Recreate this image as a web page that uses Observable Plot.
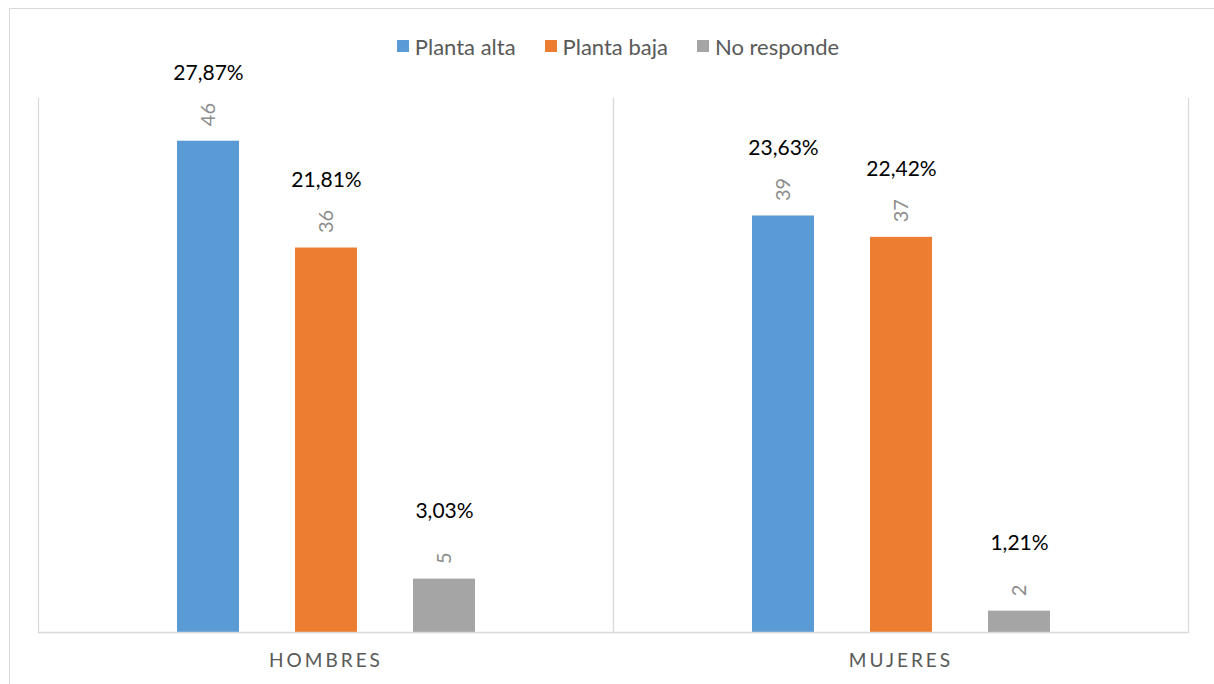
<!DOCTYPE html>
<html>
<head>
<meta charset="utf-8">
<script src="https://cdn.jsdelivr.net/npm/d3@7"></script>
<script src="https://cdn.jsdelivr.net/npm/@observablehq/plot@0.6"></script>
<style>
  html, body { margin: 0; padding: 0; background: #fff; overflow: hidden; }
  #wrap { position: relative; width: 1214px; height: 684px; font-family: Lato, "Open Sans", sans-serif; }
  #border { position: absolute; left: 9px; top: 8px; width: 1300px; height: 800px; border: 1px solid #D9D9D9; box-sizing: border-box; pointer-events: none; }
  #legend { height: 24px; padding-top: 34px; padding-left: 22px; display: flex; justify-content: center; align-items: center; gap: 29px; font-size: 22px; color: #595959; }
  .item { display: flex; align-items: center; gap: 6px; }
  .sw { width: 12px; height: 12px; display: inline-block; }
  #chart svg { display: block; }
</style>
</head>
<body>
<div id="wrap">
  <div id="border"></div>
  <div id="legend"></div>
  <div id="chart"></div>
</div>
<script>
const categories = ["HOMBRES", "MUJERES"];
const series = ["Planta alta", "Planta baja", "No responde"];
const colors = ["#5B9BD5", "#ED7D31", "#A5A5A5"];
const hombres = [46, 36, 5];
const mujeres = [39, 37, 2];
const pctHombres = ["27,87%", "21,81%", "3,03%"];
const pctMujeres = ["23,63%", "22,42%", "1,21%"];

const rows = [];
[hombres, mujeres].forEach((vals, ci) => {
  const pcts = ci === 0 ? pctHombres : pctMujeres;
  vals.forEach((v, si) => rows.push({cat: categories[ci], serie: series[si], value: v, pct: pcts[si]}));
});

const legend = document.getElementById("legend");
series.forEach((s, i) => {
  const it = document.createElement("div");
  it.className = "item";
  it.innerHTML = `<span class="sw" style="background:${colors[i]}"></span><span>${s}</span>`;
  legend.appendChild(it);
});

const chart = Plot.plot({
  width: 1214,
  height: 626,
  marginTop: 40,
  marginBottom: 52,
  marginLeft: 38,
  marginRight: 26,
  style: {fontFamily: "Lato, 'Open Sans', sans-serif", background: "transparent"},
  fx: {domain: categories, padding: 0, axis: null},
  x: {domain: series, paddingInner: 0.477, paddingOuter: 1.165, axis: null},
  y: {domain: [0, 50], axis: null},
  color: {domain: series, range: colors},
  marks: [
    Plot.frame({anchor: "left", stroke: "#D9D9D9", strokeWidth: 1.2}),
    Plot.frame({anchor: "right", stroke: "#D9D9D9", strokeWidth: 1.2}),
    Plot.barY(rows, {fx: "cat", x: "serie", y: "value", fill: "serie"}),
    Plot.ruleY([0], {stroke: "#D9D9D9", strokeWidth: 1.5}),
    Plot.text(rows, {fx: "cat", x: "serie", y: "value", text: d => String(d.value), rotate: -90, textAnchor: "start", lineAnchor: "middle", dy: -15, fontSize: 20, fill: "#8C8C8C"}),
    Plot.text(rows, {fx: "cat", x: "serie", y: "value", text: "pct", lineAnchor: "middle", dy: -68, fontSize: 21, fill: "#000"}),
    Plot.text(categories, {fx: d => d, frameAnchor: "bottom", text: d => d, dy: 28, lineAnchor: "middle", fontSize: 19, fill: "#595959"})
  ]
});
d3.select(chart).selectAll("text").filter(function() { return categories.includes(this.textContent); })
  .attr("letter-spacing", "3px");
document.getElementById("chart").appendChild(chart);
</script>
</body>
</html>
